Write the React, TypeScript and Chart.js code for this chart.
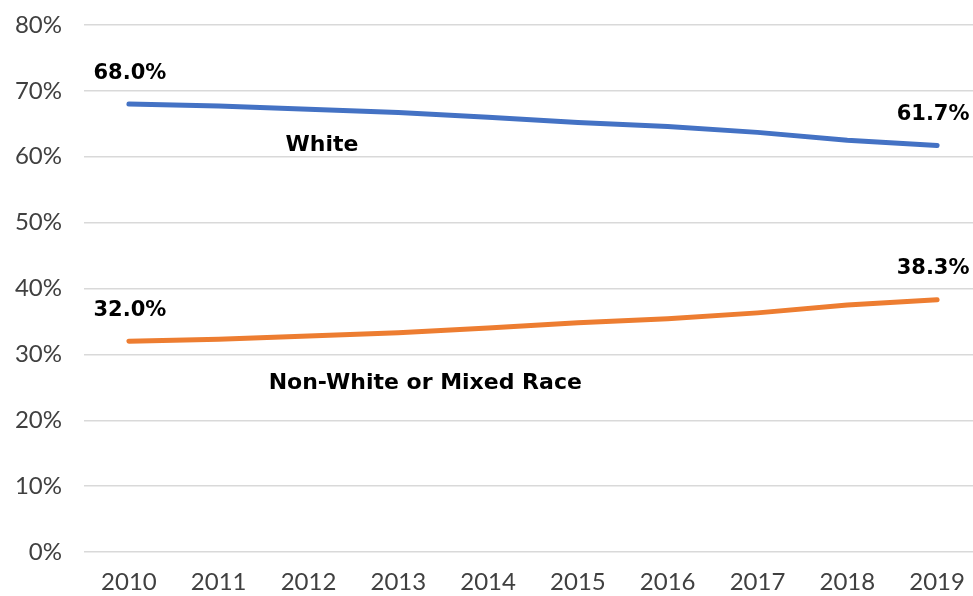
import React, { useEffect, useRef } from "react";
import { Chart, registerables } from "chart.js";

Chart.register(...registerables);

const years = ["2010", "2011", "2012", "2013", "2014", "2015", "2016", "2017", "2018", "2019"];
const whiteShare = [68.0, 67.7, 67.2, 66.7, 66.0, 65.2, 64.6, 63.7, 62.5, 61.7];
const nonWhiteShare = [32.0, 32.3, 32.8, 33.3, 34.0, 34.8, 35.4, 36.3, 37.5, 38.3];
const yTicks = [0, 10, 20, 30, 40, 50, 60, 70, 80];
const seriesNames = ["White", "Non-White or Mixed Race"];
// series-name label anchors in data space: [category index, value]
const nameAnchors = [
  [2.15, 61.8],
  [3.3, 25.6],
];

const labelPlugin = {
  id: "valueLabels",
  afterDatasetsDraw(chart: any) {
    const { ctx, scales } = chart;
    const xs = scales.x;
    const ys = scales.y;
    ctx.save();
    ctx.fillStyle = "#000000";
    ctx.textAlign = "center";
    ctx.textBaseline = "middle";
    chart.data.datasets.forEach((ds: any, di: number) => {
      const last = ds.data.length - 1;
      ctx.font = "bold 21px 'DejaVu Sans'";
      [0, last].forEach((i) => {
        const px = xs.getPixelForValue(i);
        const py = ys.getPixelForValue(ds.data[i]);
        const dx = i === 0 ? 1 : -4;
        ctx.fillText(ds.data[i].toFixed(1) + "%", px + dx, py - 31);
      });
      ctx.font = "bold 22px 'DejaVu Sans'";
      const [ai, av] = nameAnchors[di];
      ctx.fillText(seriesNames[di], xs.getPixelForValue(ai), ys.getPixelForValue(av));
    });
    ctx.restore();
  },
};

export default function App() {
  const ref = useRef<HTMLCanvasElement | null>(null);
  useEffect(() => {
    if (!ref.current) return;
    const chart = new Chart(ref.current, {
      type: "line",
      data: {
        labels: years,
        datasets: [
          {
            label: seriesNames[0],
            data: whiteShare,
            borderColor: "#4472C4",
            borderWidth: 5,
            pointRadius: 0,
            borderCapStyle: "round",
            borderJoinStyle: "round",
            tension: 0,
          },
          {
            label: seriesNames[1],
            data: nonWhiteShare,
            borderColor: "#ED7D31",
            borderWidth: 5,
            pointRadius: 0,
            borderCapStyle: "round",
            borderJoinStyle: "round",
            tension: 0,
          },
        ],
      },
      options: {
        animation: false,
        responsive: false,
        maintainAspectRatio: false,
        layout: { padding: { top: 25, right: 0, bottom: 0, left: 0 } },
        plugins: { legend: { display: false }, tooltip: { enabled: false } },
        scales: {
          x: {
            type: "category",
            offset: true,
            grid: { display: false, drawTicks: false },
            border: { display: false },
            ticks: {
              color: "#404040",
              font: { family: "Lato", size: 24, weight: "normal" },
              padding: 16,
              maxRotation: 0,
            },
            afterFit: (s: any) => {
              s.height = 44;
              s.paddingLeft = 0;
              s.paddingRight = 0;
            },
          },
          y: {
            min: 0,
            max: 80,
            afterBuildTicks: (s: any) => {
              s.ticks = yTicks.map((v) => ({ value: v }));
            },
            grid: { color: "#d9d9d9", lineWidth: 1.5, drawTicks: false },
            border: { display: false },
            ticks: {
              color: "#404040",
              font: { family: "Lato", size: 24, weight: "normal" },
              padding: 22,
              callback: (v: any) => v + "%",
            },
            afterFit: (s: any) => {
              s.width = 84;
              s.paddingTop = 0;
              s.paddingBottom = 0;
            },
          },
        },
      },
      plugins: [labelPlugin],
    });
    return () => chart.destroy();
  }, []);
  return (
    <div style={{ position: "fixed", left: 0, top: 0, width: 973, height: 596, overflow: "hidden", background: "#fff" }}>
      <canvas ref={ref} width={982} height={596} style={{ display: "block", width: 982, height: 596 }} />
    </div>
  );
}
